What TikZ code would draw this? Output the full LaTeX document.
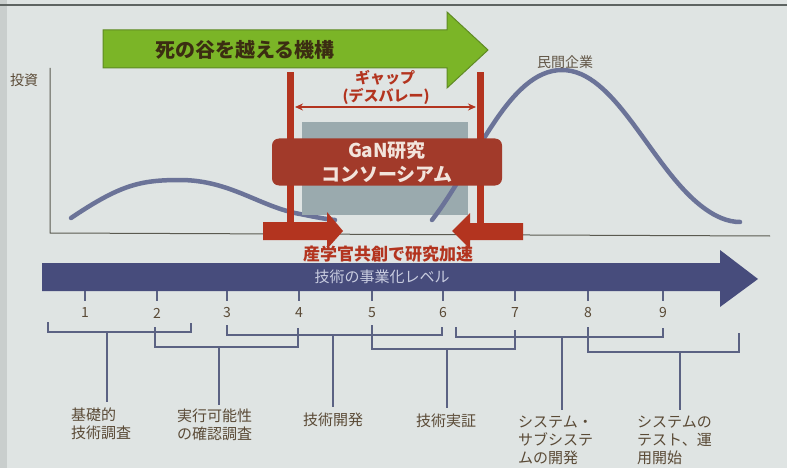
\documentclass[tikz,border=0pt]{standalone}
\usepackage{fontspec}
\newfontfamily\jp{Noto Sans CJK JP}
\usetikzlibrary{arrows.meta}
\definecolor{bg}{HTML}{DFE4E3}
\definecolor{strip}{HTML}{C9CECD}
\definecolor{topline}{HTML}{5E6462}
\definecolor{grn}{HTML}{7BB527}
\definecolor{grnedge}{HTML}{5F8A24}
\definecolor{grntext}{HTML}{3B2D12}
\definecolor{axiscol}{HTML}{5A5A50}
\definecolor{curve}{HTML}{6B7398}
\definecolor{grayrect}{HTML}{9AAAAE}
\definecolor{redbar}{HTML}{B3341F}
\definecolor{boxred}{HTML}{A23A2A}
\definecolor{boxtext}{HTML}{F2E4DC}
\definecolor{bluearr}{HTML}{474C7C}
\definecolor{bluetext}{HTML}{C9CDE0}
\definecolor{brk}{HTML}{5B6283}
\definecolor{lbl}{HTML}{5A4A36}
\definecolor{numcol}{HTML}{5A4A36}
\tikzset{
  lbltext/.style={text=lbl, font=\jp\fontsize{15}{18}\selectfont, inner sep=0pt},
  lblleft/.style={lbltext, align=left, anchor=west},
  numtext/.style={text=numcol, font=\jp\fontsize{14}{16}\selectfont, inner sep=0pt},
  brkline/.style={draw=brk, line width=2pt},
  redarrow/.style={fill=redbar},
  curveline/.style={curve, line width=4.5pt, line cap=round},
}
\begin{document}
\begin{tikzpicture}[x=1pt,y=-1pt]
\useasboundingbox (0,0) rectangle (787,468);
\fill[bg] (0,0) rectangle (787,468);
\fill[strip] (0,0) rectangle (7,468);
\draw[topline, line width=2pt] (0,5) -- (787,5);

% green arrow
\fill[grn, draw=grnedge, line width=1pt] (103,30) -- (447,30) -- (447,12) -- (488,50) -- (447,88) -- (447,68) -- (103,68) -- cycle;
\node[text=grntext, font=\jp\bfseries\fontsize{20}{22}\selectfont, inner sep=0pt] (valley) at (245,50) {死の谷を越える機構};

% axes
\node[text=lbl, font=\jp\fontsize{14}{16}\selectfont, inner sep=0pt] (invest) at (24,80) {投資};
\coordinate (ytop) at (50,68);
\coordinate (origin) at (50,233);
\coordinate (xend) at (770,236);
\draw[axiscol, line width=1pt] (ytop) -- (origin) -- (xend);

% small curve
\draw[curveline] (71,218) .. controls (120,185) and (140,180) .. (180,180) .. controls (230,180) and (260,207) .. (300,214) .. controls (315,217) and (325,219) .. (335,220);

% gray rect
\fill[grayrect] (302,122) rectangle (468,215);

% big curve (over the gray rect)
\draw[curveline] (432,220) .. controls (475,165) and (508,70) .. (562,70) .. controls (615,70) and (650,165) .. (700,205) .. controls (715,217) and (728,222) .. (740,222);
\node[text=lbl!80!gray, font=\jp\fontsize{14}{16}\selectfont, inner sep=0pt] (priv) at (565,62) {民間企業};

% red bars
\fill[redbar] (287,72) rectangle (294,226);
\fill[redbar] (477,72) rectangle (484,226);
\coordinate (gapL) at (295,107);
\coordinate (gapR) at (476,107);
\draw[redbar, line width=1.8pt, {Stealth[length=8pt,width=7pt]}-{Stealth[length=8pt,width=7pt]}] (gapL) -- (gapR);
\node[text=redbar, font=\jp\bfseries\fontsize{15}{17}\selectfont, inner sep=0pt] (gap1) at (385,78) {ギャップ};
\node[text=redbar, font=\jp\bfseries\fontsize{15}{17}\selectfont, inner sep=0pt] (gap2) at (386,96) {(デスバレー)};

% red box
\node[fill=boxred, rounded corners=7pt, minimum width=230pt, minimum height=47pt, align=center,
      text=boxtext, font=\jp\bfseries\fontsize{19}{24}\selectfont, inner sep=0pt] (gan) at (387,162) {GaN研究\\コンソーシアム};

% red push arrows
\fill[redarrow] (263,222) -- (327,222) -- (327,212) -- (343,231) -- (327,249) -- (327,240) -- (263,240) -- cycle;
\fill[redarrow] (523,223) -- (470,223) -- (470,213) -- (452,231) -- (470,249) -- (470,240) -- (523,240) -- cycle;
\node[text=redbar, font=\jp\bfseries\fontsize{17}{19}\selectfont, inner sep=0pt] (accel) at (388,254) {産学官共創で研究加速};

% blue arrow
\fill[bluearr] (42,263) -- (720,263) -- (720,250) -- (758,279) -- (720,307) -- (720,291) -- (42,291) -- cycle;
\node[text=bluetext, font=\jp\fontsize{15}{17}\selectfont, inner sep=0pt] (trl) at (382,277) {技術の事業化レベル};

% ticks and numbers
\foreach \n/\x in {1/85,2/157,3/227,4/299,5/372,6/443,7/515,8/588,9/663} {
  \coordinate (t\n) at (\x,291);
  \node[numtext] (n\n) at (\x,313) {\n};
  \draw[brk, line width=2pt] (t\n) -- (\x,301);
}

% brackets
\draw[brkline] (48,322) -- (48,332) -- (191,332) -- (191,323);
\coordinate (sA) at (107,332);
\draw[brkline] (155,327) -- (155,347) -- (298,347) -- (298,328);
\coordinate (sB) at (219,347);
\draw[brkline] (227,325) -- (227,335) -- (442,335) -- (442,327);
\coordinate (sC) at (333,335);
\draw[brkline] (372,325) -- (372,349) -- (515,349) -- (515,330);
\coordinate (sD) at (447,349);
\draw[brkline] (456,327) -- (456,337) -- (663,337) -- (663,328);
\coordinate (sE) at (562,337);
\draw[brkline] (588,327) -- (588,352) -- (739,352) -- (739,333);
\coordinate (sF) at (680,352);

% labels
\node[lblleft] (lA) at (71,424) {基礎的\\技術調査};
\node[lblleft] (lB) at (177,425) {実行可能性\\の確認調査};
\node[lbltext] (lC) at (333,420) {技術開発};
\node[lbltext] (lD) at (446,421) {技術実証};
\node[lblleft] (lE) at (518,440) {システム・\\サブシステ\\ムの開発};
\node[lblleft] (lF) at (637,440) {システムの\\テスト、運\\用開始};

\draw[brkline] (sA) -- (107,402);
\draw[brkline] (sB) -- (219,405);
\draw[brkline] (sC) -- (333,407);
\draw[brkline] (sD) -- (447,408);
\draw[brkline] (sE) -- (562,410);
\draw[brkline] (sF) -- (680,410);
\end{tikzpicture}
\end{document}
